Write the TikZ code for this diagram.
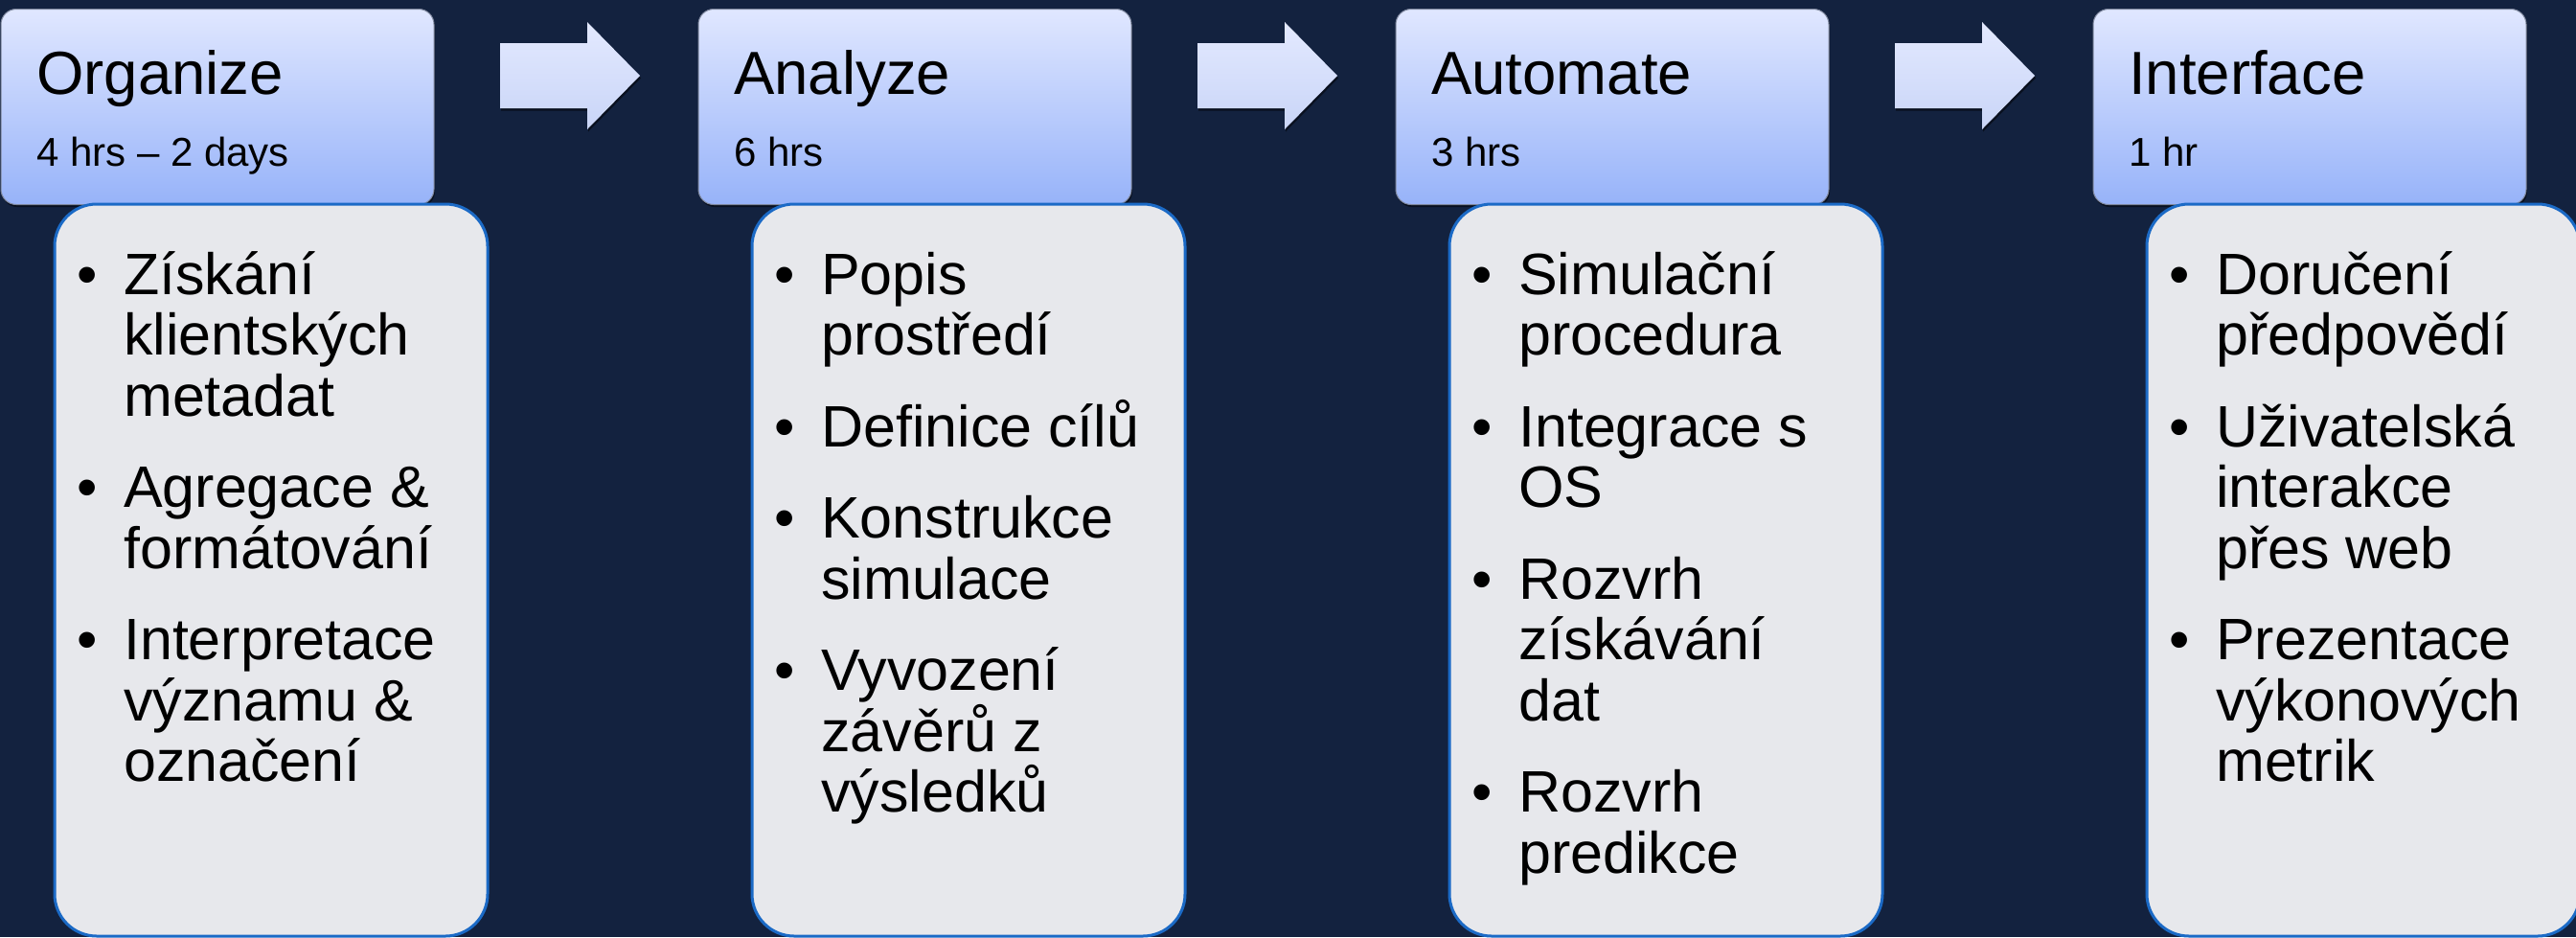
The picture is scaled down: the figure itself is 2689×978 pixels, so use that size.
\documentclass[tikz,border=0pt]{standalone}
\usepackage{fontspec}
\setmainfont{Liberation Sans}
\usetikzlibrary{shadows}
\definecolor{bg}{HTML}{13223F}
\definecolor{hdrtop}{HTML}{E0E7FF}
\definecolor{hdrbot}{HTML}{97B3F9}
\definecolor{hdrline}{HTML}{7F889E}
\definecolor{bodyfill}{HTML}{E7E8EC}
\definecolor{bodyline}{HTML}{1B6AC6}
\definecolor{arrtop}{HTML}{E3E9FF}
\definecolor{arrbot}{HTML}{C9D5F7}
\newcommand\titlefont{\fontsize{63.5pt}{70pt}\selectfont}
\newcommand\subfont{\fontsize{42pt}{48pt}\selectfont}
\newcommand\bodyfont{\fontsize{61pt}{63.5pt}\selectfont}
\newcommand\bul{\leavevmode\llap{•\hspace{27pt}}}
\begin{document}
\begin{tikzpicture}[x=1pt,y=-1pt,
  hdr/.style={rectangle, rounded corners=16pt, draw=hdrline, line width=1pt,
    top color=hdrtop, bottom color=hdrbot, minimum width=452pt, minimum height=204pt,
    inner sep=0pt, outer sep=0pt, anchor=north west,
    drop shadow={shadow xshift=1pt, shadow yshift=-2.5pt, opacity=0.5, fill=black}},
  bodybox/.style={rectangle, rounded corners=44pt, draw=bodyline, line width=3pt,
    fill=bodyfill, minimum width=452pt, minimum height=764pt,
    inner sep=0pt, outer sep=0pt, anchor=north west},
  ttl/.style={anchor=base west, inner sep=0pt, font=\titlefont, text=black},
  sub/.style={anchor=base west, inner sep=0pt, font=\subfont, text=black},
  txt/.style={anchor=base west, inner sep=0pt, font=\bodyfont, text=black},
  arrowshape/.style={top color=arrtop, bottom color=arrbot,
    drop shadow={shadow xshift=1pt, shadow yshift=-2.5pt, opacity=0.5, fill=black}}
]
\useasboundingbox (0,0) rectangle (2689,978);
\fill[bg] (0,0) rectangle (2689,978);

% arrows between the headers
\foreach \o in {0,728,1456}{
  \path[arrowshape] (522+\o,45) -- (613+\o,45) -- (613+\o,23) -- (668+\o,79)
    -- (613+\o,135) -- (613+\o,113) -- (522+\o,113) -- cycle;
}

% headers
\node[hdr] (h1) at (1,9.5) {};
\node[hdr] (h2) at (729,9.5) {};
\node[hdr] (h3) at (1457,9.5) {};
\node[hdr] (h4) at (2185,9.5) {};

\node[ttl] (h1t) at (38,98) {Organize};
\node[sub] (h1s) at (38,173) {4 hrs – 2 days};
\node[ttl] (h2t) at (766,98) {Analyze};
\node[sub] (h2s) at (766,173) {6 hrs};
\node[ttl] (h3t) at (1494,98) {Automate};
\node[sub] (h3s) at (1494,173) {3 hrs};
\node[ttl] (h4t) at (2222,98) {Interface};
\node[sub] (h4s) at (2222,173) {1 hr};

% bodies
\node[bodybox] (b1) at (57,213) {};
\node[bodybox] (b2) at (785,213) {};
\node[bodybox] (b3) at (1513,213) {};
\node[bodybox] (b4) at (2241,213) {};

\node[txt] (b1t) at (129,307) {\parbox[t]{420pt}{\bul Získání\\klientských\\metadat\\[32pt]\bul Agregace \&\\formátování\\[32pt]\bul Interpretace\\významu \&\\označení}};
\node[txt] (b2t) at (857,307) {\parbox[t]{420pt}{\bul Popis\\prostředí\\[32pt]\bul Definice cílů\\[32pt]\bul Konstrukce\\simulace\\[32pt]\bul Vyvození\\závěrů z\\výsledků}};
\node[txt] (b3t) at (1585,307) {\parbox[t]{420pt}{\bul Simulační\\procedura\\[32pt]\bul Integrace s\\OS\\[32pt]\bul Rozvrh\\získávání\\dat\\[32pt]\bul Rozvrh\\predikce}};
\node[txt] (b4t) at (2313,307) {\parbox[t]{420pt}{\bul Doručení\\předpovědí\\[32pt]\bul Uživatelská\\interakce\\přes web\\[32pt]\bul Prezentace\\výkonových\\metrik}};
\end{tikzpicture}
\end{document}
